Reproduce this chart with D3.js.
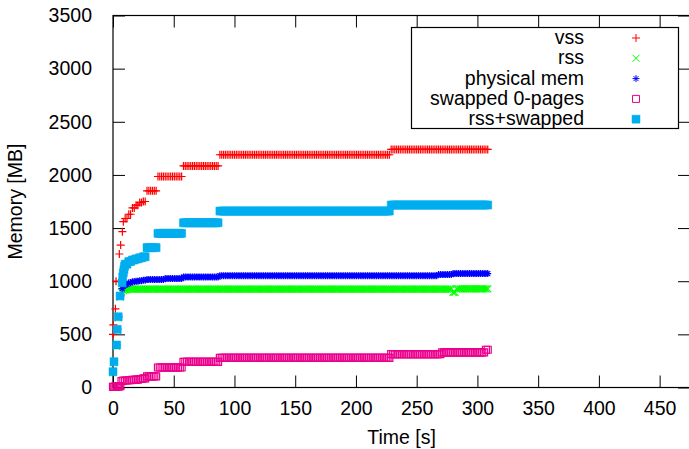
<!DOCTYPE html>
<html lang="en">
<head>
  <meta charset="UTF-8">
  <title>Memory usage over time</title>
  <style>
    body { margin: 0; background: #fff; }
    svg text { font-family: "Liberation Sans", Arial, sans-serif; font-size: 19.5px; fill: #000; }
  </style>
</head>
<body>
  <svg id="chart" width="689" height="449"></svg>

  <script src="https://d3js.org/d3.v7.min.js"></script>
  <script>
    const xTicks = [0, 50, 100, 150, 200, 250, 300, 350, 400, 450];
    const yTicks = [0, 500, 1000, 1500, 2000, 2500, 3000, 3500];

    // after the first 10 s there is one sample every 1.5 s
    const sampleTimes = d3.range(10, 309, 1.5); // 200 samples

    // first seconds, read one by one: [time s, MB]
    const vssStart  = [[0, 500], [0.3, 590], [2, 740], [2.5, 1000], [5.2, 1256], [6.3, 1340], [7.7, 1466], [8.5, 1560]];
    const rssStart  = [[0, 140], [0.8, 235], [3, 390], [3.5, 540], [4.3, 655], [5.8, 850], [7, 900], [8.5, 915]];
    const physStart = [[0.5, 150], [1.2, 245], [3.5, 400], [4, 550], [5, 665], [6.5, 860], [7.5, 930], [8.5, 955]];
    const swapStart = [[0, 5], [1, 5], [2, 8], [3, 8], [4, 10], [5, 10], [6, 12], [7, 60], [8.5, 65]];
    const sumStart  = [[0, 149], [0.8, 243], [3, 400], [3.5, 547], [4.3, 666], [5.8, 861], [7.5, 985], [8, 1040], [8.5, 1080], [9, 1110], [9.5, 1140]];

    // the rest of the samples as runs: [MB, how many samples]
    const vssRuns  = [[1590, 2], [1630, 2], [1690, 2], [1715, 2], [1740, 2], [1750, 2], [1850, 6], [1985, 14], [2085, 20], [2190, 94], [2240, 54]];
    const rssRuns  = [[920, 2], [925, 178], [895, 2], [928, 18]];
    const physRuns = [[970, 2], [985, 2], [995, 2], [1000, 2], [1005, 2], [1010, 2], [1015, 10], [1025, 10], [1040, 20], [1052, 120], [1062, 8], [1072, 20]];
    const swapRuns = [[66, 2], [68, 2], [72, 2], [75, 2], [80, 2], [85, 2], [105, 6], [188, 14], [242, 20], [278, 94], [314, 28], [331, 24], [355, 2]];
    const sumRuns  = [[1160, 2], [1185, 2], [1200, 2], [1210, 2], [1220, 2], [1230, 2], [1316, 6], [1450, 14], [1550, 20], [1660, 94], [1717, 54]];

    const seriesNames  = ['vss', 'rss', 'physical mem', 'swapped 0-pages', 'rss+swapped'];
    const seriesColors = ['#ff0000', '#00ff00', '#0000ff', '#ec008c', '#00aeef'];

    const plot = {left: 113, right: 690, top: 15.5, bottom: 387.5};
    const TICK = 12;

    const xScale = d3.scaleLinear().domain([0, 475]).range([plot.left, plot.right]);
    const yScale = d3.scaleLinear().domain([0, 3500]).range([plot.bottom, plot.top]);

    function toPoints(start, runs) {
      const later = runs.flatMap(([v, n]) => Array(n).fill(v));
      return start.map(([t, v]) => ({t, v}))
        .concat(later.map((v, i) => ({t: sampleTimes[i], v})));
    }

    // gnuplot point types 1..5
    const symbols = [
      {d: 'M-4,0H4M0,-4V4', fill: false},
      {d: 'M-3.5,-3.5L3.5,3.5M-3.5,3.5L3.5,-3.5', fill: false},
      {d: 'M-3.5,0H3.5M0,-3.5V3.5M-2.5,-2.5L2.5,2.5M-2.5,2.5L2.5,-2.5', fill: false},
      {d: 'M-3.5,-3.5H3.5V3.5H-3.5Z', fill: false},
      {d: 'M-4,-4H4V4H-4Z', fill: true}
    ];

    const series = [
      toPoints(vssStart, vssRuns),
      toPoints(rssStart, rssRuns),
      toPoints(physStart, physRuns),
      toPoints(swapStart, swapRuns),
      toPoints(sumStart, sumRuns)
    ].map((points, i) => ({name: seriesNames[i], color: seriesColors[i], symbol: symbols[i], points}));

    const svg = d3.select('#chart');

    // axes, ticks pointing inwards and mirrored on top/right
    svg.append('g')
      .attr('transform', `translate(0,${plot.bottom})`)
      .call(d3.axisBottom(xScale).tickValues(xTicks).tickSize(-TICK).tickPadding(14).tickFormat(d3.format('d')));
    svg.append('g')
      .attr('transform', `translate(${plot.left},0)`)
      .call(d3.axisLeft(yScale).tickValues(yTicks).tickSize(-TICK).tickPadding(21).tickFormat(d3.format('d')));
    svg.append('g')
      .attr('transform', `translate(0,${plot.top})`)
      .call(d3.axisTop(xScale).tickValues(xTicks).tickSize(-TICK).tickFormat(''));
    svg.append('g')
      .attr('transform', `translate(${plot.right},0)`)
      .call(d3.axisRight(yScale).tickValues(yTicks).tickSize(-TICK).tickFormat(''));

    svg.selectAll('.domain').remove();
    svg.selectAll('.tick line').attr('stroke', '#000').attr('stroke-width', 1);

    // border
    svg.append('rect')
      .attr('x', plot.left).attr('y', plot.top)
      .attr('width', plot.right - plot.left).attr('height', plot.bottom - plot.top)
      .attr('fill', 'none').attr('stroke', '#000').attr('stroke-width', 1.2);

    // data points, drawn in plot order so rss+swapped ends on top
    series.forEach(s => {
      svg.append('g').selectAll('path')
        .data(s.points)
        .join('path')
        .attr('transform', d => `translate(${xScale(d.t)},${yScale(d.v)})`)
        .attr('d', s.symbol.d)
        .attr('fill', s.symbol.fill ? s.color : 'none')
        .attr('stroke', s.color)
        .attr('stroke-width', s.symbol.fill ? 0.5 : 1.2);
    });

    // axis titles
    svg.append('text')
      .attr('x', (plot.left + plot.right) / 2).attr('y', 444)
      .attr('text-anchor', 'middle')
      .text('Time [s]');
    svg.append('text')
      .attr('transform', `translate(21.5,${(plot.top + plot.bottom) / 2}) rotate(-90)`)
      .attr('text-anchor', 'middle')
      .text('Memory [MB]');

    // legend
    const legend = svg.append('g');
    legend.append('rect')
      .attr('x', 411.5).attr('y', 27.5).attr('width', 267).attr('height', 101)
      .attr('fill', '#fff').attr('stroke', '#000').attr('stroke-width', 1.2);
    const rows = legend.selectAll('g.row')
      .data(series)
      .join('g')
      .attr('class', 'row')
      .attr('transform', (d, i) => `translate(0,${44 + i * 20.3})`);
    rows.append('text')
      .attr('x', 584).attr('text-anchor', 'end')
      .text(d => d.name);
    rows.append('path')
      .attr('transform', 'translate(636,-6)')
      .attr('d', d => d.symbol.d)
      .attr('fill', d => d.symbol.fill ? d.color : 'none')
      .attr('stroke', d => d.color)
      .attr('stroke-width', d => d.symbol.fill ? 0.5 : 1);
  </script>
</body>
</html>
